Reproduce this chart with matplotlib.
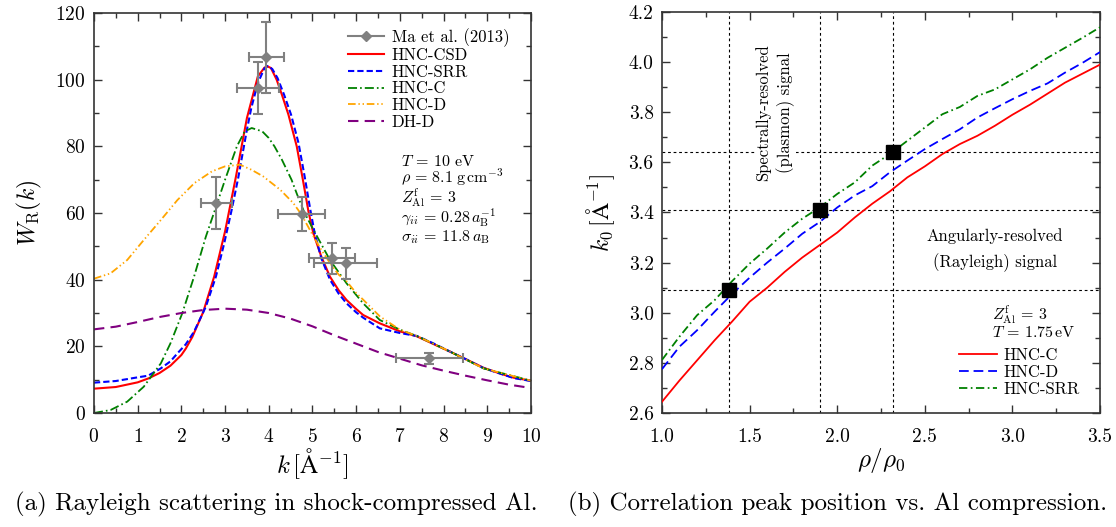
import matplotlib
matplotlib.use("Agg")
import matplotlib.pyplot as plt
from matplotlib.lines import Line2D
from matplotlib.ticker import MultipleLocator, FormatStrFormatter

plt.rcParams["font.family"] = "serif"
plt.rcParams["font.serif"] = ["cmr10", "DejaVu Serif"]
plt.rcParams["mathtext.fontset"] = "cm"
plt.rcParams["axes.unicode_minus"] = False
plt.rcParams["axes.formatter.use_mathtext"] = True
plt.rcParams["lines.scale_dashes"] = False

# ---- (a) Rayleigh weight W_R(k) ----
k_csd = [0, 0.5, 1.0, 1.25, 1.5, 1.75, 2.0, 2.1, 2.25, 2.5, 2.75, 3.0, 3.25,
         3.5, 3.75, 3.9, 3.97, 4.05, 4.18, 4.3, 4.45, 4.64, 4.78, 4.91, 5.02,
         5.2, 5.4, 5.6, 5.78, 6.0, 6.16, 6.54, 7.0, 7.39, 7.75, 8.15, 8.5,
         8.91, 9.3, 9.6, 10.0]
w_csd = [7.3, 7.8, 9.2, 10.4, 12.0, 14.2, 17.4, 19.3, 22.8, 30.3, 40.9, 54.5,
         71.0, 88.5, 101.0, 103.6, 104.0, 103.5, 100.0, 95.5, 89.5, 80.0, 70.0,
         60.3, 53.9, 47.0, 40.9, 36.8, 33.9, 31.2, 29.4, 26.9, 24.5, 23.0,
         20.8, 18.4, 16.2, 13.6, 11.8, 10.6, 9.7]

k_srr = [0, 0.5, 1.0, 1.24, 1.53, 1.75, 1.91, 2.1, 2.29, 2.56, 2.79, 2.98,
         3.15, 3.3, 3.5, 3.6, 3.75, 3.9, 3.98, 4.08, 4.2, 4.35, 4.51, 4.68,
         4.82, 4.95, 5.05, 5.2, 5.4, 5.6, 5.78, 6.0, 6.16, 6.54, 7.0, 7.39,
         7.75, 8.15, 8.5, 8.91, 9.3, 9.6, 10.0]
w_srr = [9.1, 9.6, 10.7, 11.2, 13.4, 15.5, 17.9, 20.6, 24.4, 31.9, 40.9, 50.9,
         60.9, 70.5, 85.0, 91.5, 99.0, 103.4, 104.1, 103.2, 100.5, 95.5, 89.5,
         81.0, 71.0, 61.0, 54.0, 46.5, 40.0, 35.8, 32.9, 30.2, 28.6, 25.4, 24.0,
         23.1, 21.0, 18.4, 16.2, 13.5, 11.8, 10.5, 9.6]

k_c = [0, 0.38, 0.76, 1.14, 1.53, 1.75, 2.02, 2.29, 2.56, 2.77, 3.0, 3.27,
       3.45, 3.61, 3.85, 4.0, 4.13, 4.3, 4.52, 4.65, 4.81, 5.02, 5.4, 5.78,
       6.16, 6.54, 7.0, 7.39, 8.15, 8.91, 10.0]
w_c = [0.0, 0.9, 3.4, 7.9, 14.9, 20.9, 29.9, 40.9, 52.9, 61.0, 70.0, 80.0,
       84.5, 85.5, 84.5, 82.5, 80.0, 76.0, 70.0, 65.5, 60.3, 55.0, 45.9, 38.9,
       32.9, 27.9, 25.0, 23.1, 18.4, 13.4, 9.7]

k_d = [0, 0.38, 0.76, 1.14, 1.53, 1.91, 2.3, 2.7, 3.0, 3.34, 3.6, 3.87, 4.26,
       4.56, 4.75, 5.0, 5.2, 5.4, 5.6, 5.78, 6.0, 6.16, 6.54, 7.0, 7.39, 8.15,
       8.91, 10.0]
w_d = [40.3, 41.9, 45.9, 51.9, 57.9, 63.9, 69.0, 72.5, 74.0, 74.5, 73.0, 71.0,
       67.0, 63.0, 59.5, 53.5, 49.0, 45.0, 41.5, 39.5, 36.0, 34.0, 29.0, 25.0,
       23.1, 18.4, 13.4, 9.7]

k_dh = [0, 0.5, 1.0, 1.5, 2.0, 2.5, 3.0, 3.5, 4.0, 4.5, 5.0, 5.5, 6.0, 6.5,
        7.0, 7.5, 8.0, 8.5, 9.0, 9.5, 10.0]
w_dh = [25.1, 25.9, 27.3, 28.8, 30.0, 30.9, 31.3, 31.0, 30.0, 28.3, 26.0, 23.3,
        20.8, 18.3, 16.3, 14.3, 12.7, 11.2, 9.8, 8.5, 7.5]

# Ma et al. (2013) measurements
k_exp = [2.80, 3.76, 3.94, 4.75, 5.44, 5.76, 7.67]
w_exp = [62.9, 97.5, 106.7, 59.7, 46.4, 44.9, 16.4]
k_err = [0.35, 0.48, 0.40, 0.53, 0.53, 0.72, 0.77]
w_err = [7.8, 7.7, 10.6, 5.0, 4.6, 4.6, 1.75]

params_a = [r"$T\,=\,10$ eV",
            r"$\rho\,=\,8.1\;\mathrm{g\,cm^{-3}}$",
            r"$Z^{\mathrm{f}}_{\mathrm{Al}}\,=\,3$",
            r"$\gamma_{ii}\,=\,0.28\,a_{\mathrm{B}}^{-1}$",
            r"$\sigma_{ii}\,=\,11.8\,a_{\mathrm{B}}$"]
params_a_y = [75.6, 70.7, 64.7, 58.7, 52.7]

# ---- (b) correlation peak position k0 vs compression ----
rho_grid = [1.0, 1.1, 1.2, 1.3, 1.4, 1.5, 1.6, 1.7, 1.8, 1.9, 2.0, 2.1, 2.2,
            2.3, 2.4, 2.5, 2.6, 2.7, 2.8, 2.9, 3.0, 3.1, 3.2, 3.3, 3.4, 3.5]
k0_c = [2.645, 2.73, 2.81, 2.89, 2.965, 3.044, 3.10, 3.163, 3.22, 3.27, 3.32,
        3.38, 3.435, 3.484, 3.54, 3.584, 3.633, 3.673, 3.706, 3.746, 3.79,
        3.83, 3.874, 3.918, 3.954, 3.99]
k0_d = [2.775, 2.865, 2.93, 3.004, 3.075, 3.14, 3.2, 3.256, 3.315, 3.362, 3.42,
        3.468, 3.505, 3.56, 3.607, 3.653, 3.693, 3.732, 3.779, 3.816, 3.852,
        3.885, 3.915, 3.958, 3.997, 4.04]
k0_srr = [2.812, 2.905, 2.99, 3.05, 3.126, 3.196, 3.256, 3.32, 3.375, 3.42,
          3.474, 3.52, 3.587, 3.633, 3.686, 3.739, 3.792, 3.821, 3.865, 3.891,
          3.931, 3.971, 4.017, 4.057, 4.097, 4.139]

rho_mark = [1.38, 1.90, 2.32]
k0_mark = [3.09, 3.41, 3.64]

captions = ["(a) Rayleigh scattering in shock-compressed Al.",
            "(b) Correlation peak position vs. Al compression."]

fig = plt.figure(figsize=(11.16, 5.27), dpi=100)
ax1 = fig.add_axes([0.0842, 0.2163, 0.3916, 0.759])
ax2 = fig.add_axes([0.5932, 0.2163, 0.3925, 0.761])

grey = "#808080"
ax1.errorbar(k_exp, w_exp, xerr=k_err, yerr=w_err, fmt="D", color=grey,
             ms=5.5, lw=1.5, capsize=3.5, capthick=1.5, zorder=5)
l_csd, = ax1.plot(k_csd, w_csd, color="red", lw=1.5, label="HNC-CSD")
l_srr, = ax1.plot(k_srr, w_srr, color="blue", lw=1.5, ls=(0, (4.5, 2.2)),
                  label="HNC-SRR")
l_c, = ax1.plot(k_c, w_c, color="green", lw=1.3,
                ls=(0, (6.5, 2.2, 1.2, 2.2)), label="HNC-C")
l_d, = ax1.plot(k_d, w_d, color="orange", lw=1.3,
                ls=(0, (5.5, 2, 1, 2, 1, 2)), label="HNC-D")
l_dh, = ax1.plot(k_dh, w_dh, color="purple", lw=1.5, ls=(0, (7.5, 4.5)),
                 label="DH-D")
# legend entry for the data: a grey line with a diamond, as in the source
h_exp = Line2D([], [], color=grey, lw=1.5, marker="D", ms=5.5)

ax1.set_xlim(0, 10)
ax1.set_ylim(0, 120)
ax1.xaxis.set_major_locator(MultipleLocator(1))
ax1.xaxis.set_minor_locator(MultipleLocator(0.5))
ax1.yaxis.set_major_locator(MultipleLocator(20))
ax1.yaxis.set_minor_locator(MultipleLocator(10))
ax1.set_xlabel(r"$k\,[\mathrm{\AA}^{-1}]$", fontsize=18, labelpad=0)
ax1.set_ylabel(r"$W_{\mathrm{R}}(k)$", fontsize=17, labelpad=8)
ax1.legend([h_exp, l_csd, l_srr, l_c, l_d, l_dh],
           ["Ma et al. (2013)", "HNC-CSD", "HNC-SRR", "HNC-C", "HNC-D", "DH-D"],
           loc="upper left", bbox_to_anchor=(0.581, 0.963), frameon=False,
           fontsize=12, handlelength=2.15, handletextpad=0.48,
           labelspacing=0.08, borderpad=0, borderaxespad=0)
for s, y in zip(params_a, params_a_y):
    ax1.text(7.03, y, s, fontsize=11.5, ha="left", va="center")

# reference lines and marked points
for r in rho_mark:
    ax2.axvline(r, color="black", lw=0.8, ls=(0, (2, 2)), zorder=1)
for kk in k0_mark:
    ax2.axhline(kk, color="black", lw=0.8, ls=(0, (2, 2)), zorder=1)
ax2.plot(rho_grid, k0_c, color="red", lw=1.3, label="HNC-C", zorder=3)
ax2.plot(rho_grid, k0_d, color="blue", lw=1.3, ls=(0, (7, 3.5)),
         label="HNC-D", zorder=3)
ax2.plot(rho_grid, k0_srr, color="green", lw=1.3,
         ls=(0, (6, 2.5, 1.2, 2.5)), label="HNC-SRR", zorder=3)
ax2.plot(rho_mark, k0_mark, ls="none", marker="s", ms=9.5, color="black",
         zorder=4)

ax2.text(1.647, 3.80, "Spectrally-resolved\n(plasmon) signal", rotation=90,
         ha="center", va="center", fontsize=12, linespacing=1.35, zorder=2,
         bbox=dict(facecolor="white", edgecolor="none", pad=1))
ax2.text(2.90, 3.25, "Angularly-resolved\n(Rayleigh) signal", ha="center",
         va="center", fontsize=12, linespacing=1.6)
ax2.text(2.884, 2.993, r"$Z^{\mathrm{f}}_{\mathrm{Al}}\,=\,3$", fontsize=11.5,
         ha="left", va="center")
ax2.text(2.884, 2.921, r"$T\,=\,1.75\,\mathrm{eV}$", fontsize=11.5,
         ha="left", va="center")

ax2.set_xlim(1.0, 3.5)
ax2.set_ylim(2.6, 4.2)
ax2.xaxis.set_major_locator(MultipleLocator(0.5))
ax2.xaxis.set_minor_locator(MultipleLocator(0.25))
ax2.yaxis.set_major_locator(MultipleLocator(0.2))
ax2.yaxis.set_minor_locator(MultipleLocator(0.1))
ax2.xaxis.set_major_formatter(FormatStrFormatter("%.1f"))
ax2.yaxis.set_major_formatter(FormatStrFormatter("%.1f"))
ax2.set_xlabel(r"$\rho/\rho_0$", fontsize=18, labelpad=0)
ax2.set_ylabel(r"$k_0\,[\mathrm{\AA}^{-1}]$", fontsize=17, labelpad=8)
ax2.legend(loc="lower right", bbox_to_anchor=(0.954, 0.04), frameon=False,
           fontsize=12, handlelength=2.3, handletextpad=0.4,
           labelspacing=0.1, borderpad=0, borderaxespad=0)

for ax in (ax1, ax2):
    ax.tick_params(which="both", direction="in", top=True, right=True,
                   labelsize=14, colors="#333333", labelcolor="black")
    ax.tick_params(which="major", length=6, width=1)
    ax.tick_params(which="minor", length=3.5, width=1)
    ax.tick_params(axis="y", which="major", pad=6)
    ax.tick_params(axis="x", which="major", pad=11)
    for sp in ax.spines.values():
        sp.set_color("#333333")
        sp.set_linewidth(1.2)

fig.text(0.2475, 0.042, captions[0], ha="center", va="center", fontsize=18)
fig.text(0.7505, 0.042, captions[1], ha="center", va="center", fontsize=18)

fig.savefig("out.png", dpi=100)
